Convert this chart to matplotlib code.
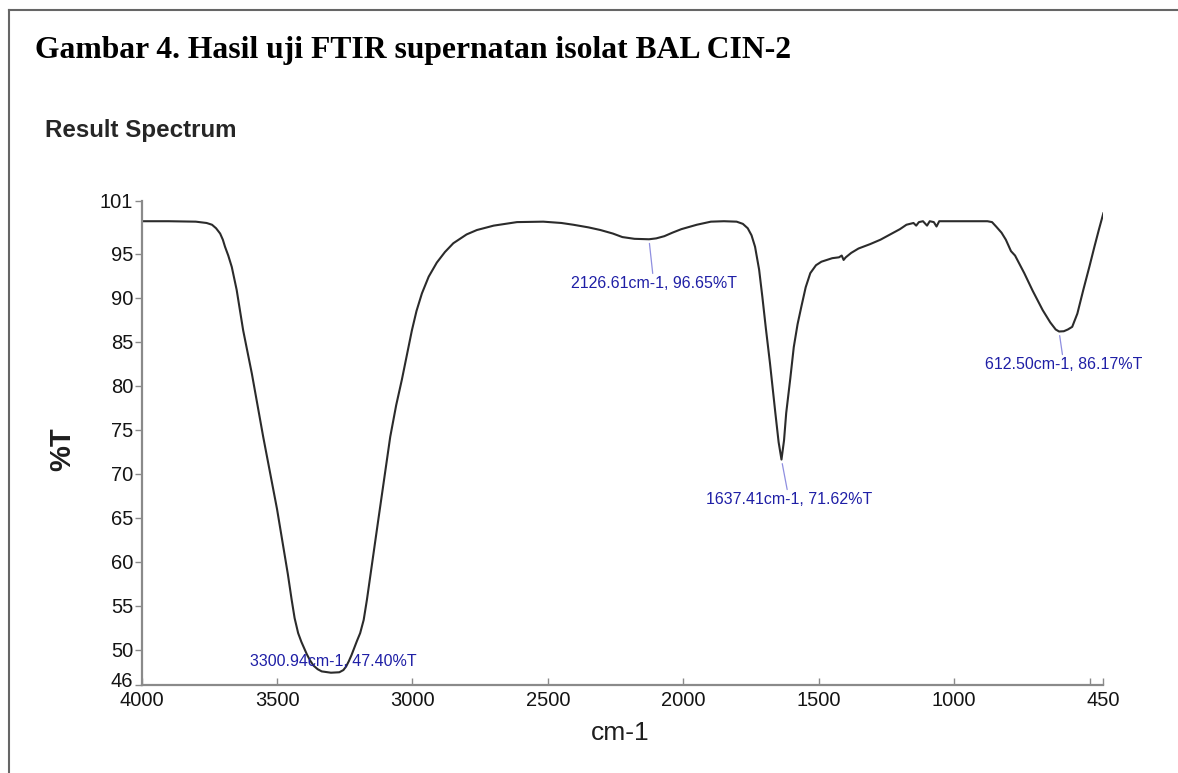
import matplotlib
matplotlib.use("Agg")
import matplotlib.pyplot as plt
from matplotlib.lines import Line2D
from matplotlib.transforms import ScaledTranslation

# ------------------------------------------------------------------------------
# Data (wavenumber in cm-1, transmittance in %T)
# ------------------------------------------------------------------------------
wavenumber = [
    4000, 3900, 3800, 3760, 3740, 3725, 3710, 3700, 3692, 3680, 3667, 3649,
    3625, 3593, 3551, 3500, 3460, 3446, 3435, 3422, 3410, 3400, 3390, 3378,
    3365, 3350, 3335, 3300.94, 3270, 3255, 3245, 3235, 3225, 3215, 3205, 3193,
    3180, 3168, 3125, 3082, 3060, 3039, 3020, 3002, 2985, 2965, 2940, 2910,
    2880, 2849, 2800, 2762, 2700, 2614, 2517, 2450, 2406, 2350, 2306, 2260,
    2225, 2180, 2126.61, 2100, 2070, 2040, 2007, 1950, 1898, 1850, 1803, 1780,
    1762, 1748, 1735, 1720, 1708, 1695, 1680, 1660, 1648, 1637.41, 1628, 1620,
    1605, 1592, 1578, 1564, 1548, 1531, 1510, 1490, 1470, 1450, 1425, 1415,
    1408, 1400, 1380, 1353, 1310, 1272, 1230, 1200, 1176, 1150, 1140, 1130,
    1115, 1100, 1090, 1075, 1065, 1055, 1040, 1013, 950, 877, 860, 845,
    825, 809, 790, 775, 741, 710, 673, 645, 625, 612.50, 595, 580,
    564, 545, 523, 500, 482, 465, 449,
]
transmittance = [
    98.7, 98.7, 98.65, 98.5, 98.3, 97.9, 97.3, 96.6, 95.8, 94.8, 93.5, 90.9,
    86.3, 81.4, 74.2, 66.0, 58.6, 55.7, 53.6, 51.9, 50.9, 50.2, 49.5, 48.8,
    48.2, 47.8, 47.55, 47.40, 47.45, 47.7, 48.1, 48.7, 49.4, 50.2, 51.0, 51.9,
    53.4, 55.7, 65.0, 74.2, 77.8, 80.7, 83.6, 86.3, 88.5, 90.5, 92.4, 94.0,
    95.2, 96.2, 97.2, 97.7, 98.2, 98.6, 98.65, 98.5, 98.3, 98.0, 97.7, 97.3,
    96.9, 96.7, 96.65, 96.75, 97.0, 97.4, 97.8, 98.3, 98.65, 98.7, 98.65, 98.4,
    97.9, 97.1, 95.8, 93.2, 90.1, 86.5, 82.6, 76.9, 73.6, 71.62, 73.8, 76.9,
    80.8, 84.4, 87.0, 89.0, 91.2, 92.8, 93.7, 94.1, 94.3, 94.5, 94.6, 94.8,
    94.3, 94.6, 95.1, 95.6, 96.1, 96.6, 97.3, 97.8, 98.3, 98.5, 98.2, 98.6,
    98.7, 98.2, 98.7, 98.6, 98.1, 98.7, 98.7, 98.7, 98.7, 98.7, 98.6, 98.1,
    97.4, 96.6, 95.3, 94.8, 92.8, 90.8, 88.6, 87.2, 86.4, 86.17, 86.2, 86.4,
    86.7, 88.2, 90.9, 93.6, 95.8, 97.8, 99.6,
]

# labelled peaks
peak_wn = [3300.94, 2126.61, 1637.41, 612.50]
peak_t = [47.40, 96.65, 71.62, 86.17]

x_ticks = [4000, 3500, 3000, 2500, 2000, 1500, 1000, 500, 450]
x_tick_labels = ["4000", "3500", "3000", "2500", "2000", "1500", "1000", "", "450"]
y_ticks = [46, 50, 55, 60, 65, 70, 75, 80, 85, 90, 95, 101]

# ------------------------------------------------------------------------------
# Figure
# ------------------------------------------------------------------------------
plt.rcParams["font.family"] = ["Liberation Sans", "DejaVu Sans"]

fig = plt.figure(figsize=(11.78, 7.73), dpi=100)
ax = fig.add_axes([0.1202, 0.1138, 0.8162, 0.6262])

ax.plot(wavenumber, transmittance, color="#2b2b2b", lw=1.5)

ax.set_xlim(4000, 450)
ax.set_ylim(46, 101)
ax.set_xticks(x_ticks)
ax.set_xticklabels(x_tick_labels)
ax.set_yticks(y_ticks)

for side in ["top", "right"]:
    ax.spines[side].set_visible(False)
for side in ["left", "bottom"]:
    ax.spines[side].set_color("#8a8a8a")
    ax.spines[side].set_linewidth(1.6)

ax.tick_params(axis="y", direction="out", length=5, width=1, color="#8a8a8a",
               labelsize=14.5, labelcolor="#141414", pad=1)
ax.tick_params(axis="x", direction="in", length=5, width=1, color="#8a8a8a",
               labelsize=14.5, labelcolor="#141414", pad=4)

# lift the "46" label a little so it clears the "4000" below it
lbl46 = ax.get_yticklabels()[0]
lbl46.set_transform(lbl46.get_transform() + ScaledTranslation(0, 4 / 72, fig.dpi_scale_trans))

# peak annotations (offsets in points from the peak)
offsets = [(1.5, 8), (3.5, -32), (5.5, -29), (3.5, -24)]
for wn, t, (dx, dy) in zip(peak_wn, peak_t, offsets):
    arrow = None
    if dy < 0:
        arrow = dict(arrowstyle="-", color="#8f8fe0", lw=0.9, shrinkA=0, shrinkB=3)
    ax.annotate(f"{wn:.2f}cm-1, {t:.2f}%T", xy=(wn, t), xytext=(dx, dy),
                textcoords="offset points", ha="center", va="center",
                fontsize=11.5, color="#1f1fa6", arrowprops=arrow)

# titles and axis names
fig.text(35 / 1178, 1 - 58 / 773, "Gambar 4. Hasil uji FTIR supernatan isolat BAL CIN-2",
         family=["Liberation Serif", "DejaVu Serif"], fontweight="bold",
         fontsize=22.8, va="baseline", ha="left", color="black")
fig.text(45 / 1178, 1 - 137 / 773, "Result Spectrum", fontweight="bold",
         fontsize=17.4, va="baseline", ha="left", color="#262626")
fig.text(62 / 1178, 1 - 449 / 773, "%T", fontweight="bold", fontsize=21,
         rotation=90, va="center", ha="center", color="#1e1e1e")
fig.text(620 / 1178, 1 - 733 / 773, "cm-1", fontsize=19, va="center",
         ha="center", color="#1e1e1e")

# frame lines of the pasted figure (top and left)
fig.add_artist(Line2D([9 / 1178, 9 / 1178], [0, 1 - 10 / 773],
                      transform=fig.transFigure, color="#666666", lw=1.5))
fig.add_artist(Line2D([9 / 1178, 1], [1 - 10 / 773, 1 - 10 / 773],
                      transform=fig.transFigure, color="#666666", lw=1.5))

fig.savefig("out.png", dpi=100)
